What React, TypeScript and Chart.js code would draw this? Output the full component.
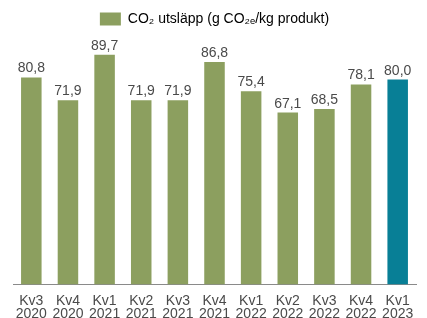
import React, { useEffect, useRef } from "react";
import { Chart, registerables } from "chart.js";

Chart.register(...registerables);

const quarters = ["Kv3", "Kv4", "Kv1", "Kv2", "Kv3", "Kv4", "Kv1", "Kv2", "Kv3", "Kv4", "Kv1"];
const years = ["2020", "2020", "2021", "2021", "2021", "2021", "2022", "2022", "2022", "2022", "2023"];
const co2Values = [80.8, 71.9, 89.7, 71.9, 71.9, 86.8, 75.4, 67.1, 68.5, 78.1, 80.0];
const seriesLabel = "CO₂ utsläpp (g CO₂ₑ/kg produkt)";

const GREEN = "#8c9f5f";
const TEAL = "#087f96";
const TEXT = "#4a4a4a";
const FONT = "'Liberation Sans', Arial, sans-serif";

const valueLabels = {
  id: "valueLabels",
  afterDatasetsDraw(chart: any) {
    const ctx = chart.ctx;
    const meta = chart.getDatasetMeta(0);
    ctx.save();
    ctx.font = `14px ${FONT}`;
    ctx.fillStyle = TEXT;
    ctx.textAlign = "center";
    ctx.textBaseline = "alphabetic";
    meta.data.forEach((bar: any, i: number) => {
      const v = chart.data.datasets[0].data[i] as number;
      ctx.fillText(v.toFixed(1).replace(".", ","), bar.x, bar.y - 5);
    });
    ctx.restore();
  },
};

export default function App() {
  const ref = useRef<HTMLCanvasElement>(null);
  useEffect(() => {
    if (!ref.current) return;
    const chart = new Chart(ref.current, {
      type: "bar",
      data: {
        labels: quarters.map((q, i) => [q, years[i]]),
        datasets: [
          {
            label: seriesLabel,
            data: co2Values,
            backgroundColor: co2Values.map((_, i) => (i === co2Values.length - 1 ? TEAL : GREEN)),
            barPercentage: 0.56,
            categoryPercentage: 1,
          },
        ],
      },
      options: {
        animation: false,
        responsive: false,
        maintainAspectRatio: false,
        layout: { padding: { left: 13, right: 11, top: 2, bottom: -5 } },
        plugins: {
          legend: {
            display: true,
            position: "top",
            labels: {
              boxWidth: 21,
              boxHeight: 13,
              color: TEXT,
              font: { size: 14, family: FONT },
              generateLabels: () => [
                {
                  text: seriesLabel,
                  fillStyle: GREEN,
                  strokeStyle: GREEN,
                  lineWidth: 0,
                  hidden: false,
                  datasetIndex: 0,
                },
              ],
            },
          },
          tooltip: { enabled: false },
        },
        scales: {
          x: {
            grid: { display: false },
            border: { display: true, color: "#8a8a8a", width: 1 },
            ticks: {
              color: TEXT,
              font: { size: 14, family: FONT, lineHeight: 0.95 },
              maxRotation: 0,
              padding: 2,
            },
          },
          y: {
            display: false,
            min: 0,
            max: 97,
          },
        },
      },
      plugins: [valueLabels],
    });
    return () => chart.destroy();
  }, []);
  return (
    <div style={{ position: "fixed", left: 0, top: 0, width: 427, height: 318, background: "#fff" }}>
      <canvas ref={ref} width={427} height={318} style={{ display: "block" }} />
    </div>
  );
}
